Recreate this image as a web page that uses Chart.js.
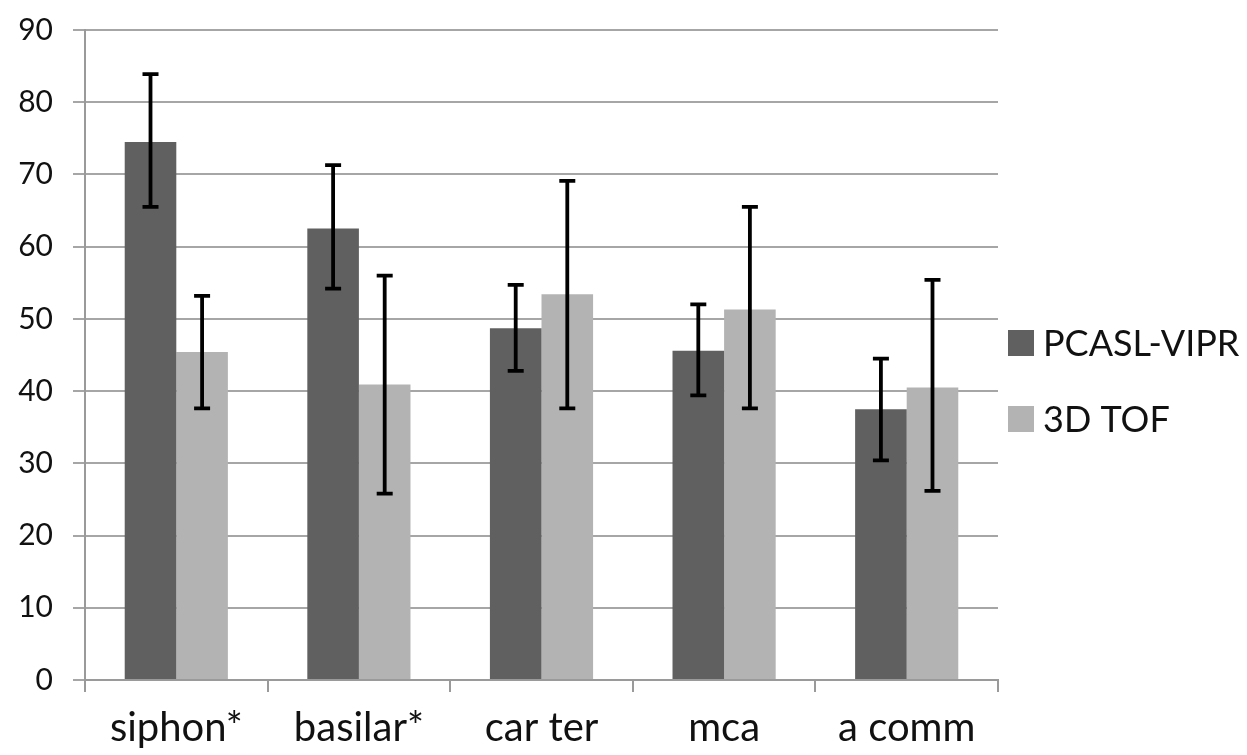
<!DOCTYPE html>
<html>
<head>
<meta charset="utf-8">
<script src="https://cdn.jsdelivr.net/npm/chart.js@4.4.0/dist/chart.umd.min.js"></script>
<style>
html,body{margin:0;padding:0;background:#fff;}
#wrap{width:1247px;height:755px;position:relative;}
</style>
</head>
<body>
<div id="wrap"><canvas id="c" width="1247" height="755"></canvas></div>
<script>
const categories = ['siphon*', 'basilar*', 'car ter', 'mca', 'a comm'];
const seriesNames = ['PCASL-VIPR', '3D TOF'];
const pcaslValues = [74.5, 62.5, 48.7, 45.6, 37.5];
const pcaslErrHigh = [83.9, 71.3, 54.7, 52.0, 44.5];
const pcaslErrLow = [65.5, 54.2, 42.8, 39.4, 30.4];
const tofValues = [45.4, 40.9, 53.4, 51.3, 40.5];
const tofErrHigh = [53.2, 56.0, 69.1, 65.5, 55.4];
const tofErrLow = [37.6, 25.8, 37.6, 37.6, 26.2];
const yTicks = [0, 10, 20, 30, 40, 50, 60, 70, 80, 90];

const errHigh = [pcaslErrHigh, tofErrHigh];
const errLow = [pcaslErrLow, tofErrLow];

const errorBarPlugin = {
  id: 'errorBars',
  afterDatasetsDraw(chart) {
    const ctx = chart.ctx;
    const y = chart.scales.y;
    ctx.save();
    ctx.strokeStyle = '#000';
    ctx.lineWidth = 3.8;
    chart.data.datasets.forEach((ds, di) => {
      const meta = chart.getDatasetMeta(di);
      meta.data.forEach((bar, i) => {
        const x = bar.x;
        const yh = y.getPixelForValue(errHigh[di][i]);
        const yl = y.getPixelForValue(errLow[di][i]);
        const cap = 8;
        ctx.beginPath();
        ctx.moveTo(x, yh); ctx.lineTo(x, yl);
        ctx.moveTo(x - cap, yh); ctx.lineTo(x + cap, yh);
        ctx.moveTo(x - cap, yl); ctx.lineTo(x + cap, yl);
        ctx.stroke();
      });
    });
    ctx.restore();
  }
};

const sideLegendPlugin = {
  id: 'sideLegend',
  afterDraw(chart) {
    const ctx = chart.ctx;
    const area = chart.chartArea;
    const boxX = area.right + 10;
    const box = 26;
    const firstCenter = 343;
    const step = 76;
    ctx.save();
    ctx.font = '36px Lato';
    ctx.textBaseline = 'middle';
    ctx.textAlign = 'left';
    chart.data.datasets.forEach((ds, i) => {
      const cy = firstCenter + i * step;
      ctx.fillStyle = ds.backgroundColor;
      ctx.fillRect(boxX, cy - box / 2, box, box);
      ctx.fillStyle = '#111';
      ctx.fillText(ds.label, boxX + box + 9, cy + 1);
    });
    ctx.restore();
  }
};

new Chart(document.getElementById('c'), {
  type: 'bar',
  data: {
    labels: categories,
    datasets: [
      { label: seriesNames[0], data: pcaslValues, backgroundColor: '#606060', barPercentage: 1, categoryPercentage: 0.565 },
      { label: seriesNames[1], data: tofValues, backgroundColor: '#b3b3b3', barPercentage: 1, categoryPercentage: 0.565 }
    ]
  },
  options: {
    responsive: false,
    animation: false,
    layout: { padding: { top: 30, left: 0, right: 249, bottom: 0 } },
    plugins: {
      tooltip: { enabled: false },
      legend: { display: false }
    },
    scales: {
      x: {
        grid: { display: true, drawOnChartArea: false, drawTicks: true, tickLength: 12, color: '#9a9a9a', lineWidth: 2, offset: true },
        border: { display: true, color: '#9a9a9a', width: 2 },
        ticks: { color: '#111', font: { family: 'Lato', size: 40, lineHeight: 1 }, padding: 16, maxRotation: 0, autoSkip: false },
        afterFit(scale) { scale.height = 75; scale.paddingLeft = 0; scale.paddingRight = 0; }
      },
      y: {
        min: 0, max: 90,
        afterBuildTicks(scale) { scale.ticks = yTicks.map(v => ({ value: v })); },
        grid: { color: '#a6a6a6', lineWidth: 2, tickLength: 12 },
        border: { display: true, color: '#9a9a9a', width: 2 },
        ticks: { color: '#111', font: { family: 'Lato', size: 30, lineHeight: 1 }, padding: 20 },
        afterFit(scale) { scale.width = 85; scale.paddingTop = 0; scale.paddingBottom = 0; }
      }
    }
  },
  plugins: [errorBarPlugin, sideLegendPlugin]
});
</script>
</body>
</html>
